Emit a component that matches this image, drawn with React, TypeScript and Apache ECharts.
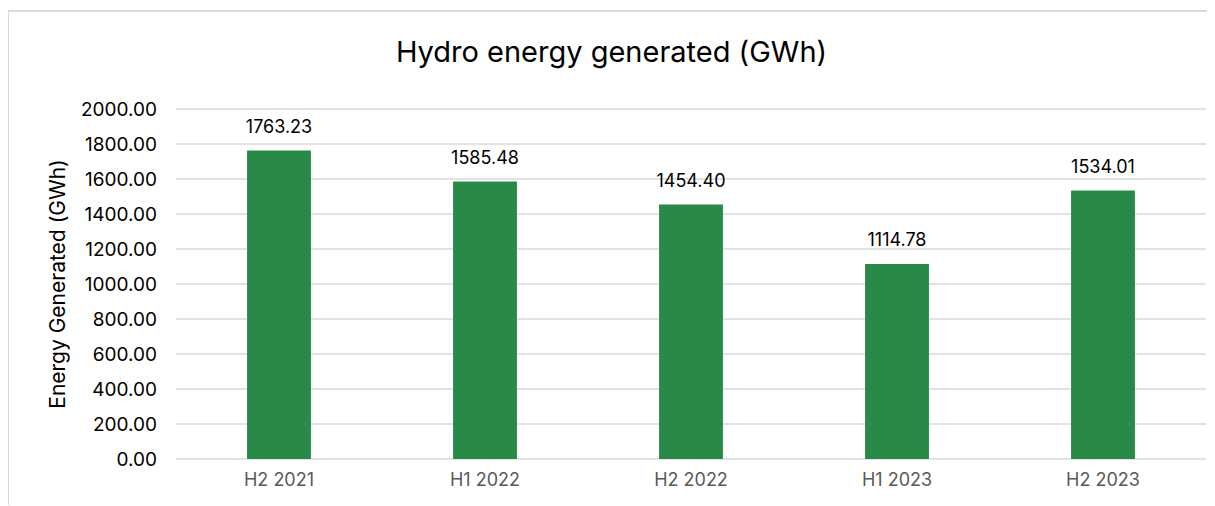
import React, { useEffect, useRef } from "react";
import * as echarts from "echarts";

const categories = ["H2 2021", "H1 2022", "H2 2022", "H1 2023", "H2 2023"];
const values = [1763.23, 1585.48, 1454.4, 1114.78, 1534.01];
const titleText = "Hydro energy generated (GWh)";
const yAxisName = "Energy Generated (GWh)";

const FONT = "Inter, 'Noto Sans', sans-serif";

export default function App() {
  const ref = useRef<HTMLDivElement>(null);
  useEffect(() => {
    if (!ref.current) return;
    const chart = echarts.init(ref.current, undefined, { renderer: "svg" });
    chart.setOption({
      animation: false,
      title: {
        text: titleText,
        left: "center",
        top: 20,
        textStyle: { fontFamily: FONT, fontSize: 29, fontWeight: "normal", color: "#000" },
      },
      grid: { left: 167, right: 8, top: 97, bottom: 46 },
      xAxis: {
        type: "category",
        data: categories,
        axisLine: { show: false },
        axisTick: { show: false },
        axisLabel: { color: "#595959", fontFamily: FONT, fontSize: 18, margin: 11 },
      },
      yAxis: {
        type: "value",
        min: 0,
        max: 2000,
        interval: 200,
        name: yAxisName,
        nameLocation: "middle",
        nameGap: 108,
        nameTextStyle: { color: "#000", fontFamily: FONT, fontSize: 21 },
        axisLine: { show: false },
        axisTick: { show: false },
        axisLabel: {
          color: "#000",
          fontFamily: FONT,
          fontSize: 19,
          margin: 19,
          formatter: (v: number) => v.toFixed(2),
        },
        splitLine: { lineStyle: { color: "#d9d9d9", width: 1.5 } },
      },
      series: [
        {
          type: "bar",
          data: values,
          barWidth: "31%",
          itemStyle: { color: "#288A46" },
          label: {
            show: true,
            position: "top",
            distance: 15,
            color: "#000",
            fontFamily: FONT,
            fontSize: 18,
            formatter: (p: any) => p.value.toFixed(2),
          },
        },
      ],
    });
    return () => chart.dispose();
  }, []);
  return (
    <div
      style={{
        position: "relative",
        width: 1207,
        height: 495,
        borderTop: "2px solid #d9d9d9",
        borderLeft: "2px solid #d9d9d9",
        marginTop: 2,
        marginLeft: -1,
        boxSizing: "border-box",
      }}
    >
      <div ref={ref} style={{ width: 1205, height: 493 }} />
    </div>
  );
}
